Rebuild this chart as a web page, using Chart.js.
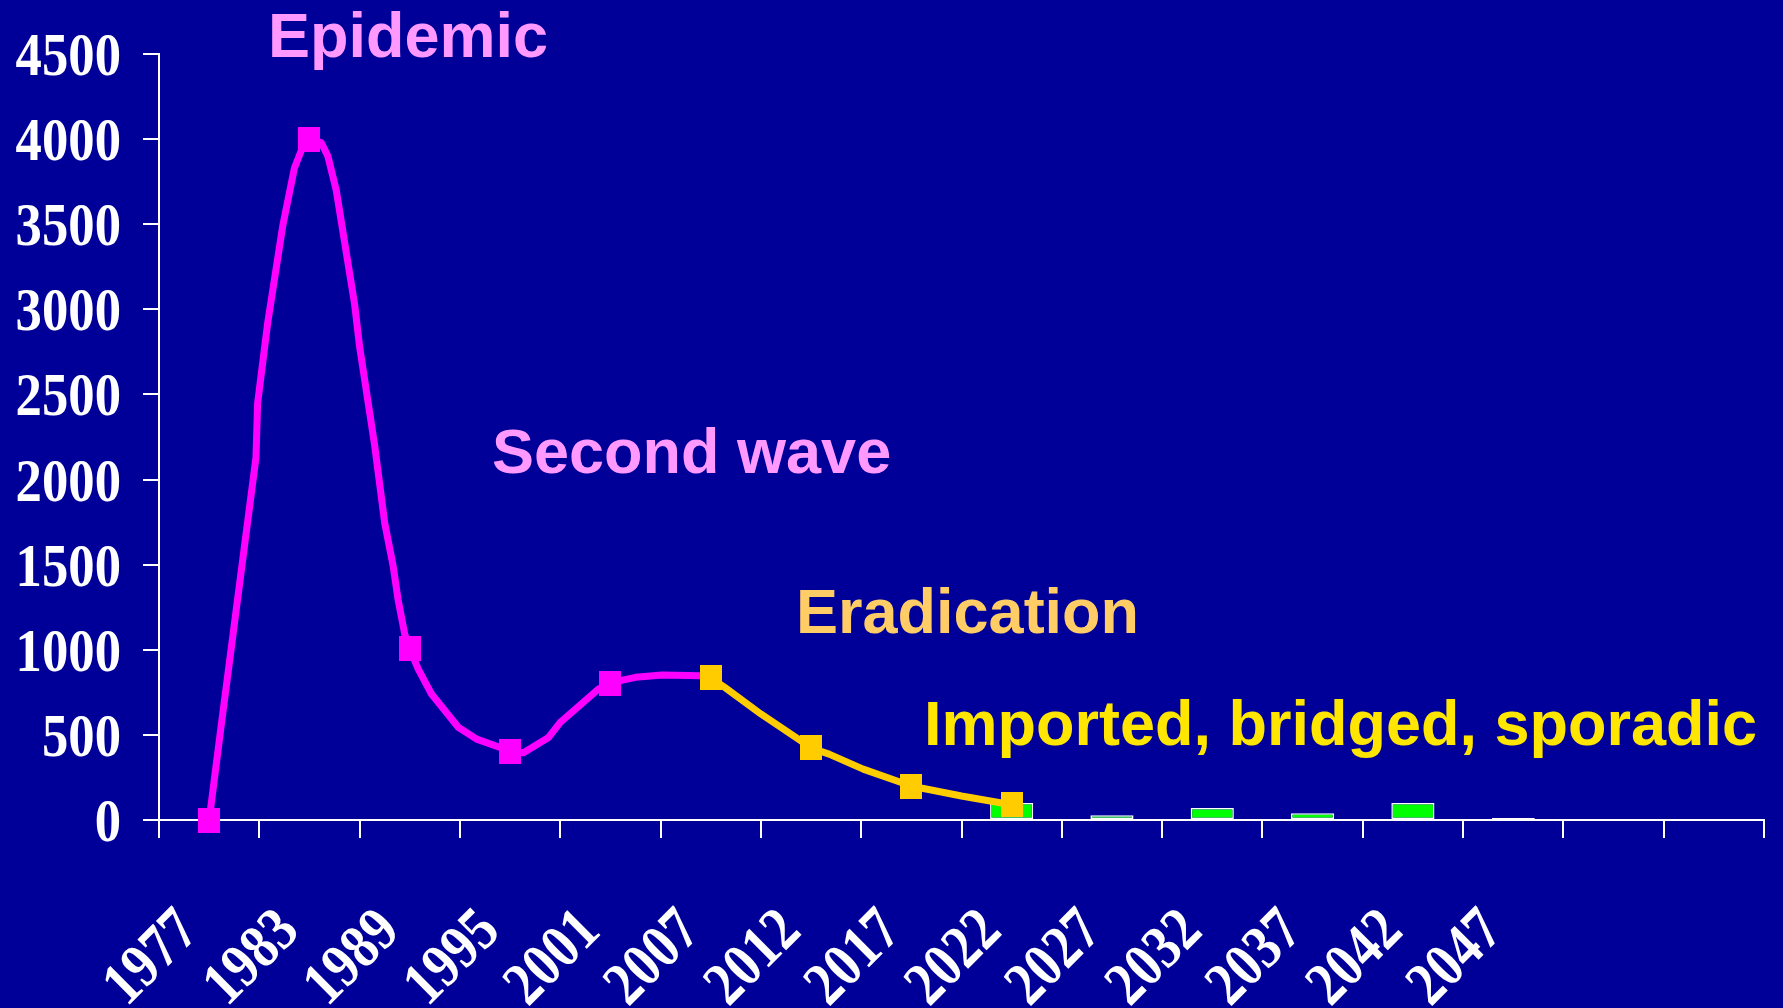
<!DOCTYPE html>
<html>
<head>
<meta charset="utf-8">
<title>Epidemic curve</title>
<script src="https://cdn.jsdelivr.net/npm/chart.js@4.4.1/dist/chart.umd.min.js"></script>
<style>
    html, body { margin: 0; padding: 0; background: #000099; }
    #wrap { position: relative; width: 1783px; height: 1008px; }
</style>
</head>
<body>
<div id="wrap"><canvas id="chart"></canvas></div>
<script>
// Category axis: one slot per label, two empty slots at the end
const categoryYears = [1977, 1983, 1989, 1995, 2001, 2007, 2012, 2017, 2022, 2027, 2032, 2037, 2042, 2047];
const tickLabels = categoryYears.map(String).concat(['', '']);

// Epidemic + second wave (magenta curve)
const waveYears  = [1977, 1977.7, 1979.8, 1979.9, 1980.5, 1981.4, 1982.1, 1982.5, 1983,
                    1983.7, 1984.1, 1984.6, 1985.7, 1986, 1986.9, 1987.5, 1988, 1988.3, 1988.7, 1989,
                    1989.5, 1990.3, 1991.9, 1993, 1995, 1995.8, 1997.3, 1998, 2000.3, 2001,
                    2001.6, 2002.5, 2004.1, 2006.4, 2007];
const waveValues = [0, 540, 2130, 2450, 2920, 3490, 3830, 3930, 4000,
                    3980, 3900, 3700, 3030, 2780, 2200, 1745, 1495, 1295, 1090, 1005,
                    888, 740, 545, 475, 405, 395, 485, 573, 770, 803,
                    819, 838, 852, 848, 835];

// Eradication (gold curve)
const eradYears  = [2007, 2007.7, 2009.5, 2011.5, 2012, 2012.9, 2014.6, 2016.5, 2017, 2017.8, 2019.5, 2022];
const eradValues = [835, 779, 623, 465, 423, 387, 299, 220, 198, 181, 141, 90];

// Imported, bridged, sporadic (green bars)
const sporadicYears  = ['2022', '2027', '2032', '2037', '2042', '2047'];
const sporadicValues = [100, 28, 70, 40, 100, 12];

const yTicks = { min: 0, max: 4500, step: 500 };

const notes = [
    { text: 'Epidemic', color: '#FF99FF' },
    { text: 'Second wave', color: '#FF99FF' },
    { text: 'Eradication', color: '#FFCC66' },
    { text: 'Imported, bridged, sporadic', color: '#FFE600' },
];

// year -> position on the category slots (slot centre = index)
function slot(year) {
    for (let k = 0; k < categoryYears.length - 1; k++) {
        const a = categoryYears[k], b = categoryYears[k + 1];
        if (year <= b) return k + (year - a) / (b - a);
    }
    return categoryYears.length - 1;
}

function marker(color) {
    const c = document.createElement('canvas');
    c.width = 22;
    c.height = 25;
    const g = c.getContext('2d');
    g.fillStyle = color;
    g.fillRect(0, 0, c.width, c.height);
    return c;
}

const pinkMark = marker('#FF00FF');
const goldMark = marker('#FFCC00');

// narrow bold serif for the axis numbers (drawn condensed like the slide)
const tickFont = 'bold 62px "Liberation Serif", "Times New Roman", serif';
const squeeze = 0.85;

const tickTextPlugin = {
    id: 'tickText',
    afterDraw(chart) {
        const ctx = chart.ctx;
        const xs = chart.scales.x, ys = chart.scales.y;
        ctx.save();
        ctx.font = tickFont;
        ctx.fillStyle = '#FFFFFF';
        ctx.textAlign = 'right';
        ctx.textBaseline = 'alphabetic';

        ys.ticks.forEach(t => {
            ctx.save();
            ctx.translate(ys.right - 38, ys.getPixelForValue(t.value) + 21);
            ctx.scale(squeeze, 1);
            ctx.fillText(String(t.value), 0, 0);
            ctx.restore();
        });

        tickLabels.forEach((label, i) => {
            if (!label) return;
            ctx.save();
            ctx.translate(xs.getPixelForTick(i) - 8, xs.top + 113);
            ctx.rotate(-Math.PI / 4);
            ctx.scale(squeeze, 1);
            ctx.fillText(label, 0, 0);
            ctx.restore();
        });
        ctx.restore();
    }
};

const notesPlugin = {
    id: 'notes',
    afterDraw(chart) {
        const ctx = chart.ctx;
        const spots = [[268, 57], [492, 473], [796, 633], [924, 745]];
        ctx.save();
        ctx.font = 'bold 63px "Liberation Sans", Arial, sans-serif';
        ctx.textBaseline = 'alphabetic';
        ctx.textAlign = 'left';
        notes.forEach((n, i) => {
            ctx.fillStyle = n.color;
            ctx.fillText(n.text, spots[i][0], spots[i][1]);
        });
        ctx.restore();
    }
};

function curve(years, values, color, mark, order) {
    return {
        type: 'line',
        xAxisID: 'xLine',
        data: years.map((y, i) => ({ x: slot(y), y: values[i] })),
        borderColor: color,
        borderWidth: 7,
        borderJoinStyle: 'round',
        tension: 0,
        clip: false,
        pointStyle: mark,
        pointRadius: ctx => categoryYears.includes(years[ctx.dataIndex]) ? 12 : 0,
        pointHoverRadius: 0,
        order: order,
    };
}

new Chart(document.getElementById('chart'), {
    type: 'line',
    data: {
        labels: tickLabels,
        datasets: [
            {
                type: 'bar',
                xAxisID: 'x',
                data: sporadicYears.map((y, i) => ({ x: y, y: sporadicValues[i] })),
                backgroundColor: '#00FF00',
                borderColor: '#FFFFFF',
                borderWidth: 1.5,
                borderSkipped: false,
                grouped: false,
                barPercentage: 0.43,
                categoryPercentage: 1,
                order: 3,
            },
            curve(waveYears, waveValues, '#FF00FF', pinkMark, 2),
            curve(eradYears, eradValues, '#FFCC00', goldMark, 1),
        ]
    },
    plugins: [tickTextPlugin, notesPlugin],
    options: {
        responsive: true,
        maintainAspectRatio: false,
        animation: false,
        layout: { padding: { top: 54, right: 19, left: 0, bottom: 0 } },
        plugins: { legend: { display: false }, tooltip: { enabled: false } },
        scales: {
            x: {
                type: 'category',
                offset: true,
                ticks: { display: false, autoSkip: false },
                grid: { offset: true, drawOnChartArea: false, tickLength: 18, color: '#FFFFFF', lineWidth: 2 },
                border: { color: '#FFFFFF', width: 2 },
                afterFit: s => { s.height = 188; s.paddingLeft = 0; s.paddingRight = 0; },
            },
            xLine: {
                type: 'linear',
                display: false,
                position: 'bottom',
                offset: false,
                bounds: 'data',
                min: -0.5,
                max: tickLabels.length - 0.5,
            },
            y: {
                type: 'linear',
                min: yTicks.min,
                max: yTicks.max,
                ticks: { display: false, stepSize: yTicks.step },
                grid: { drawOnChartArea: false, tickLength: 16, color: '#FFFFFF', lineWidth: 2 },
                border: { color: '#FFFFFF', width: 2 },
                afterFit: s => { s.width = 159; s.paddingTop = 0; s.paddingBottom = 0; },
            }
        }
    }
});
</script>
</body>
</html>
